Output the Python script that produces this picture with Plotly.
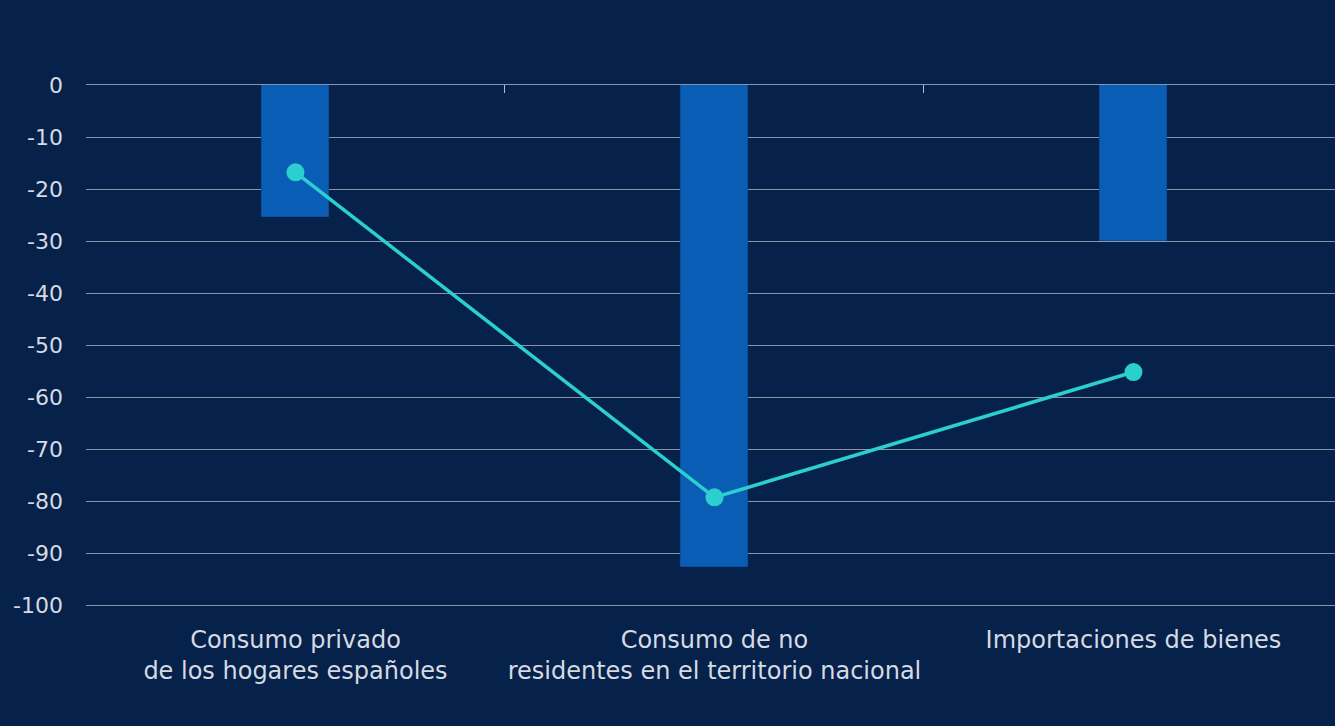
import plotly.graph_objects as go

categories = ["Consumo privado<br>de los hogares españoles",
              "Consumo de no<br>residentes en el territorio nacional",
              "Importaciones de bienes"]
bar_values = [-25.3, -92.6, -30.0]
line_values = [-16.8, -79.3, -55.2]
y_ticks = [0, -10, -20, -30, -40, -50, -60, -70, -80, -90, -100]
y_tick_labels = ["0", "-10", "-20", "-30", "-40", "-50", "-60", "-70", "-80", "-90", "-100"]

BG = "#06214a"
GRID = "#8a94a8"
TXT = "#d6dae2"
FONT = "Roboto"
XFONT = "DejaVu Sans"
XRANGE = [-0.5, 2.481]

fig = go.Figure()
fig.add_trace(go.Bar(x=categories, y=bar_values, width=0.162,
                     marker=dict(color="#0a5db5", line=dict(color="#0b4e9c", width=1)),
                     showlegend=False, hoverinfo="skip"))
fig.add_trace(go.Scatter(x=categories, y=line_values, mode="lines+markers",
                         line=dict(color="#2ccfcf", width=3.5),
                         marker=dict(size=18, color="#2ccfcf"),
                         showlegend=False, hoverinfo="skip"))
# invisible trace to carry the top boundary tick axis
fig.add_trace(go.Scatter(x=categories, y=line_values, xaxis="x2", mode="markers",
                         marker=dict(opacity=0), showlegend=False, hoverinfo="skip"))

fig.update_layout(
    width=1335, height=726,
    paper_bgcolor=BG, plot_bgcolor=BG,
    margin=dict(l=86, r=0, t=85, b=121),
    font=dict(family=FONT, color=TXT, size=23),
    xaxis=dict(type="category", range=XRANGE, showgrid=False, zeroline=False,
               showline=True, linecolor=GRID, linewidth=1,
               ticks="", ticklabelstandoff=13,
               tickfont=dict(family=XFONT, size=24, color=TXT)),
    xaxis2=dict(type="category", overlaying="x", side="top", matches="x",
                showticklabels=False, showgrid=False, zeroline=False,
                showline=True, linecolor=GRID, linewidth=1,
                ticks="inside", tickson="boundaries", ticklen=8, tickcolor="#b4bac6",
                tickwidth=1),
    yaxis=dict(range=[-100, 0], tickvals=y_ticks, ticktext=y_tick_labels,
               showgrid=True, gridcolor=GRID,
               gridwidth=1, zeroline=False, showline=False, ticks="",
               tickfont=dict(family=XFONT, size=22, color=TXT),
               ticklabelstandoff=22),
    bargap=0,
)

fig.write_html("out.html")
